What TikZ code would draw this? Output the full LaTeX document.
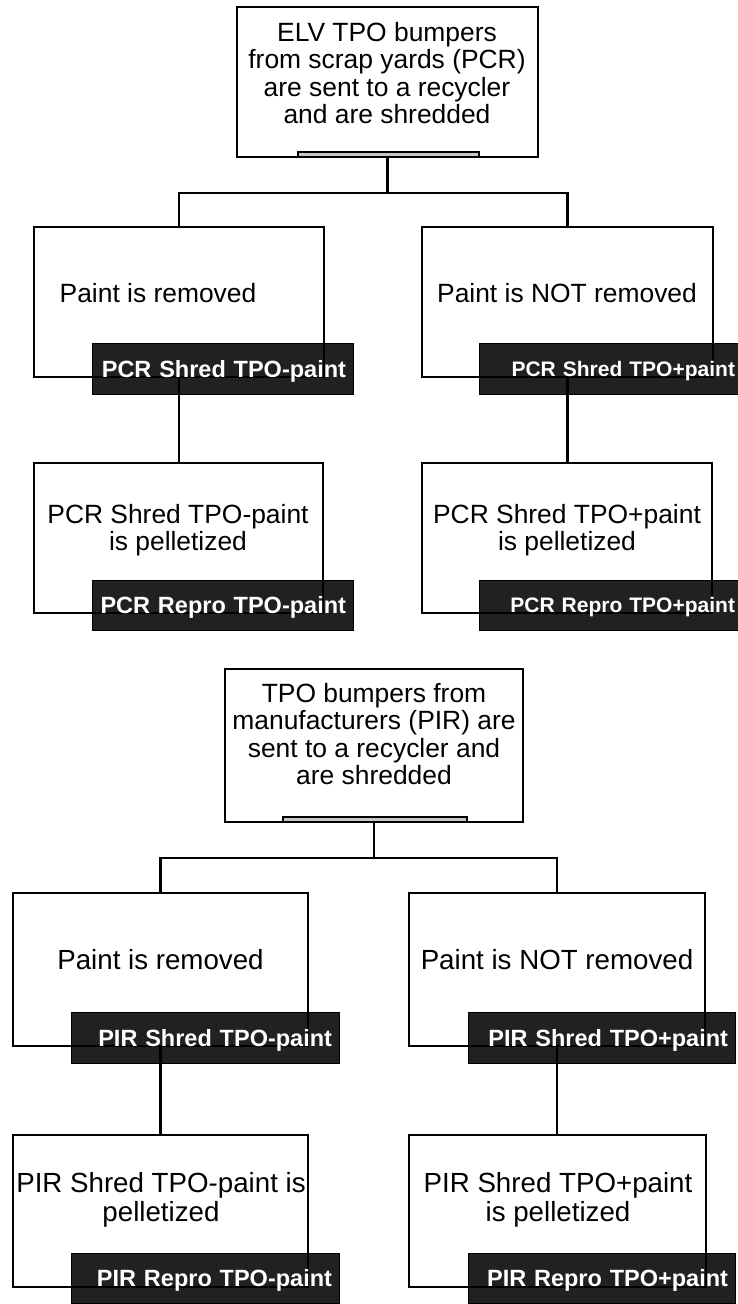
\documentclass[tikz,border=0pt]{standalone}
\usepackage{fontspec}
\setmainfont{Liberation Sans}
\begin{document}
\begin{tikzpicture}[x=1pt,y=-1pt,
  box/.style={draw=black, line width=2.8pt, inner sep=0pt, outer sep=0pt},
  bar/.style={draw=black, line width=1.8pt, fill=black!22, inner sep=0pt, outer sep=0pt, minimum height=5pt},
  conn/.style={draw=black, line width=2.8pt},
  tag/.style={draw=black, line width=1pt, fill=black, fill opacity=0.87, text opacity=1, text=white,
              inner xsep=7pt, inner ysep=0pt, outer sep=0pt, align=right, text depth=0pt,
              font=\fontsize{23.5}{25}\selectfont\bfseries},
  tagsmall/.style={tag, font=\fontsize{21}{23}\selectfont\bfseries},
  txtup/.style={align=center, inner sep=0pt, font=\fontsize{26.4}{27.5}\selectfont},
  txtlow/.style={align=center, inner sep=0pt, font=\fontsize{27.7}{29.5}\selectfont}
]
\useasboundingbox (0,0) rectangle (738,1304);
\fill[white] (0,0) rectangle (738,1304);

% ---------- upper tree (PCR) ----------
\node[box, minimum width=301pt, minimum height=150pt] (A) at (387.5,82) {};
\node[bar, minimum width=181pt, anchor=south] (barA) at (388.5,157) {};
\node[txtup] (tA) at (387,73) {ELV TPO bumpers\\from scrap yards (PCR)\\ are sent to a recycler\\and are shredded};

\node[box, minimum width=290pt, minimum height=150pt] (L1) at (179,302) {};
\node[box, minimum width=291pt, minimum height=150pt] (R1) at (567.5,302) {};
\node[box, minimum width=289pt, minimum height=150pt] (L2) at (178.5,538) {};
\node[box, minimum width=290pt, minimum height=150pt] (R2) at (567,538) {};

\node[txtup] (tL1) at (158,293) {Paint is removed};
\node[txtup] (tR1) at (567,293) {Paint is NOT removed};
\node[txtup] (tL2) at (178,530) {PCR Shred TPO-paint\\is pelletized};
\node[txtup] (tR2) at (567,530) {PCR Shred TPO+paint\\is pelletized};

\coordinate (jA) at ([yshift=-36pt]A.south);
\draw[conn] (A.south) -- (jA);
\draw[conn] (jA) -| (L1.north);
\draw[conn] (jA) -| (R1.north);
\draw[conn] (L1.south) -- (L1.south |- L2.north);
\draw[conn] (R1.south) -- (R1.south |- R2.north);

\node[tag, minimum width=261pt, minimum height=51pt, text width=247pt] (lL1) at (222.5,368.5) {PCR Shred TPO-paint};
\node[tagsmall, minimum width=263pt, minimum height=51pt, text width=249pt] (lR1) at (610.5,368.5) {PCR Shred TPO+paint};
\node[tag, minimum width=261pt, minimum height=50pt, text width=247pt] (lL2) at (222.5,605) {PCR Repro TPO-paint};
\node[tagsmall, minimum width=263pt, minimum height=50pt, text width=249pt] (lR2) at (610.5,605) {PCR Repro TPO+paint};

% ---------- lower tree (PIR) ----------
\node[box, minimum width=298pt, minimum height=153pt] (B) at (374,745.5) {};
\node[bar, minimum width=184pt, anchor=south] (barB) at (375,822) {};
\node[txtup] (tB) at (374,734) {TPO bumpers from\\manufacturers (PIR) are\\sent to a recycler and\\are shredded};

\node[box, minimum width=295pt, minimum height=153pt] (L3) at (160.5,969.5) {};
\node[box, minimum width=296pt, minimum height=153pt] (R3) at (557,969.5) {};
\node[box, minimum width=295pt, minimum height=152pt] (L4) at (160.5,1211) {};
\node[box, minimum width=297pt, minimum height=152pt] (R4) at (557.5,1211) {};

\node[txtlow] (tL3) at (160.5,960) {Paint is removed};
\node[txtlow] (tR3) at (557,960) {Paint is NOT removed};
\node[txtlow] (tL4) at (161,1200) {PIR Shred TPO-paint is\\pelletized};
\node[txtlow] (tR4) at (558,1200) {PIR Shred TPO+paint\\is pelletized};

\coordinate (jB) at ([yshift=-36pt]B.south);
\draw[conn] (B.south) -- (jB);
\draw[conn] (jB) -| (L3.north);
\draw[conn] (jB) -| (R3.north);
\draw[conn] (L3.south) -- (L3.south |- L4.north);
\draw[conn] (R3.south) -- (R3.south |- R4.north);

\node[tag, minimum width=268pt, minimum height=51pt, text width=254pt] (lL3) at (205,1037.5) {PIR Shred TPO-paint};
\node[tag, minimum width=267pt, minimum height=51pt, text width=253pt] (lR3) at (601.5,1037.5) {PIR Shred TPO+paint};
\node[tag, minimum width=268pt, minimum height=50pt, text width=254pt] (lL4) at (205,1278) {PIR Repro TPO-paint};
\node[tag, minimum width=267pt, minimum height=50pt, text width=253pt] (lR4) at (601.5,1278) {PIR Repro TPO+paint};
\end{tikzpicture}
\end{document}
